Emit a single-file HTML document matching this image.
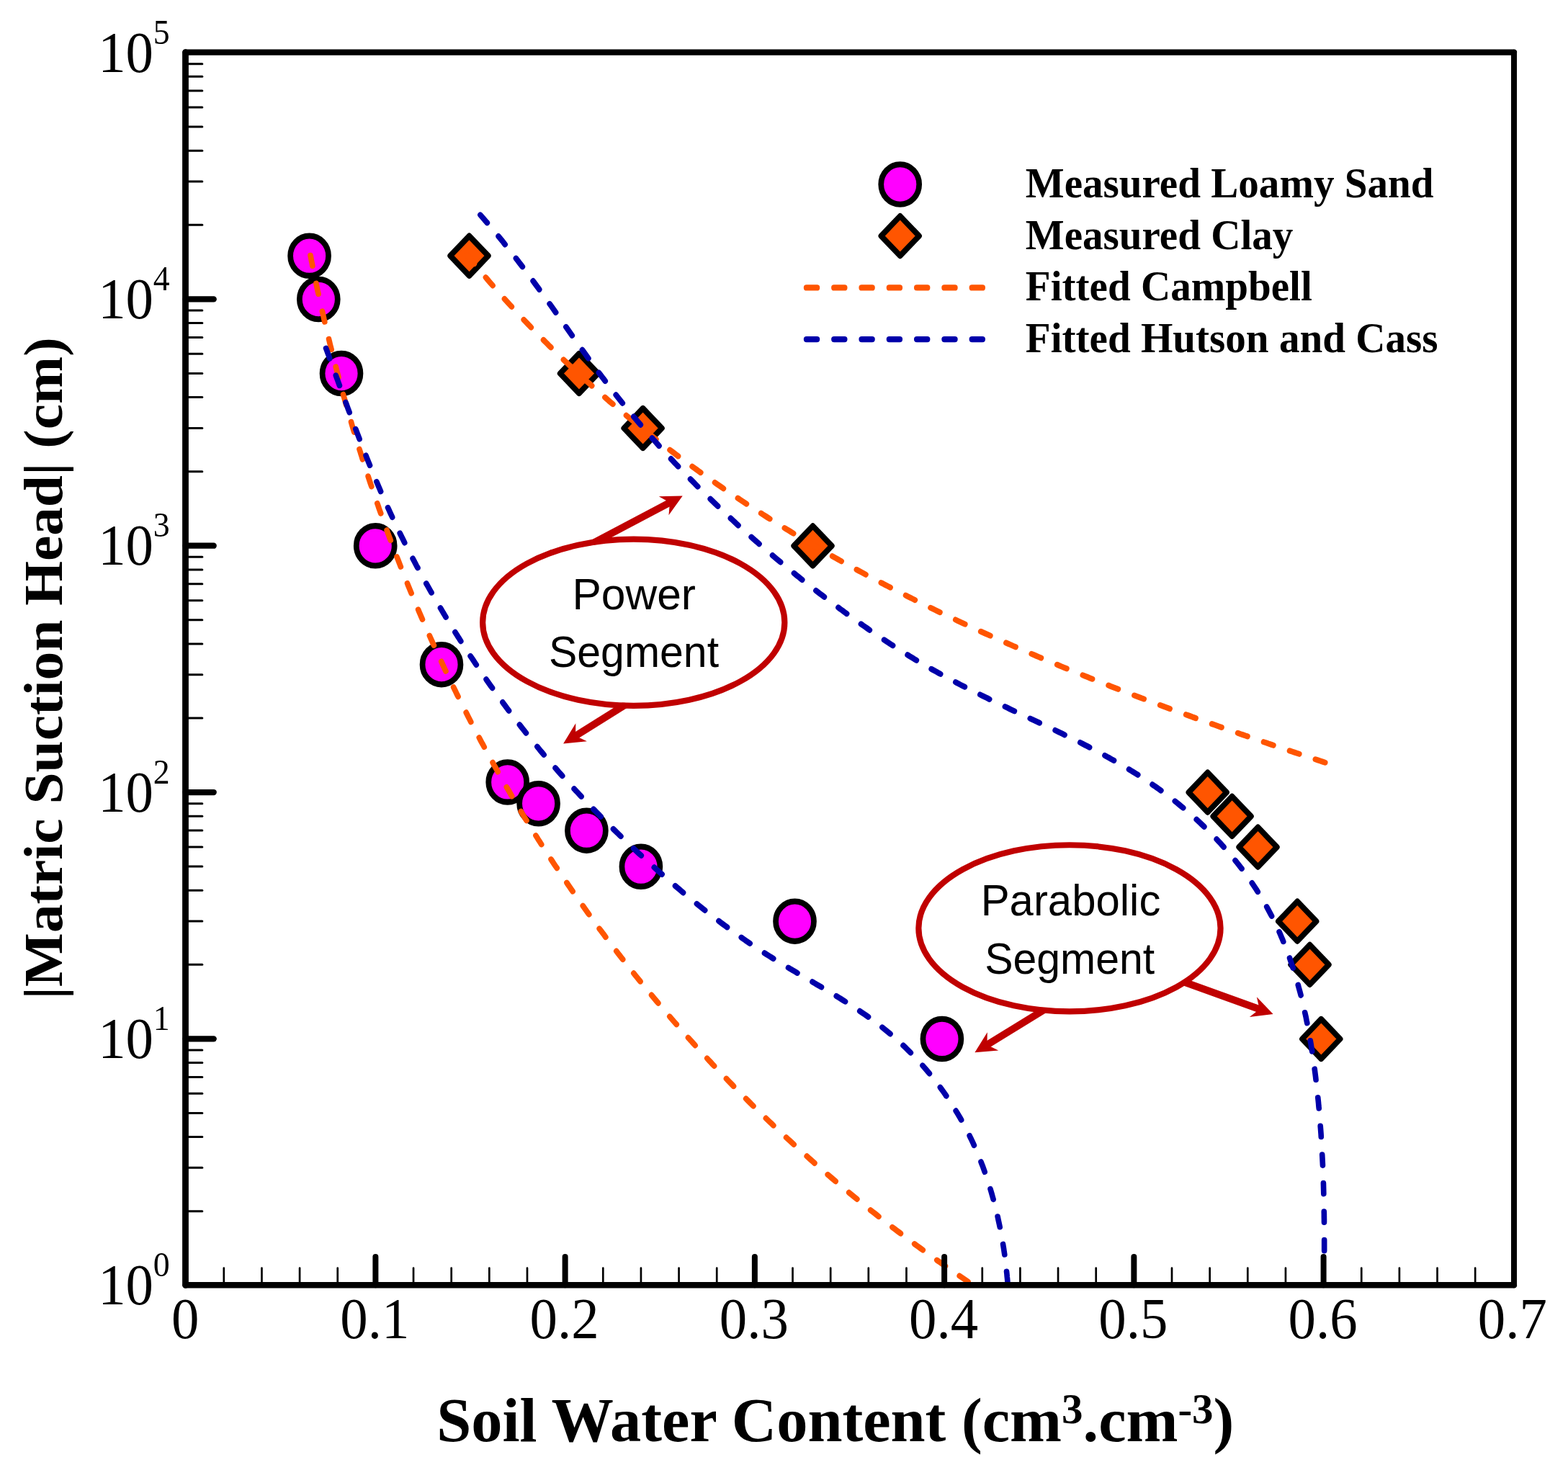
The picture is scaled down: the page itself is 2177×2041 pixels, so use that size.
<!DOCTYPE html>
<html lang="en">
<head>
<meta charset="utf-8">
<title>Soil water retention curves</title>
<style>
html, body { margin: 0; padding: 0; background: #ffffff; }
body { width: 2177px; height: 2041px; overflow: hidden; }
svg { display: block; }
</style>
</head>
<body>
<svg width="2177" height="2041" viewBox="0 0 2177 2041">
<rect x="0" y="0" width="2177" height="2041" fill="#ffffff"/>
<defs><clipPath id="plot"><rect x="269.63" y="72.65" width="1931.41" height="1714.65"/></clipPath></defs>
<g transform="scale(0.955 1)">
<g>
<circle cx="449.84" cy="355.20" r="27.7" fill="#FF00FF" stroke="#000" stroke-width="8.1"/>
<circle cx="463.14" cy="415.48" r="27.7" fill="#FF00FF" stroke="#000" stroke-width="8.1"/>
<circle cx="496.34" cy="518.53" r="27.7" fill="#FF00FF" stroke="#000" stroke-width="8.1"/>
<circle cx="545.76" cy="757.81" r="27.7" fill="#FF00FF" stroke="#000" stroke-width="8.1"/>
<circle cx="641.88" cy="922.64" r="27.7" fill="#FF00FF" stroke="#000" stroke-width="8.1"/>
<circle cx="737.91" cy="1085.97" r="27.7" fill="#FF00FF" stroke="#000" stroke-width="8.1"/>
<circle cx="782.83" cy="1115.80" r="27.7" fill="#FF00FF" stroke="#000" stroke-width="8.1"/>
<circle cx="852.77" cy="1153.17" r="27.7" fill="#FF00FF" stroke="#000" stroke-width="8.1"/>
<circle cx="931.83" cy="1203.19" r="27.7" fill="#FF00FF" stroke="#000" stroke-width="8.1"/>
<circle cx="1155.50" cy="1279.14" r="27.7" fill="#FF00FF" stroke="#000" stroke-width="8.1"/>
<circle cx="1369.53" cy="1442.47" r="27.7" fill="#FF00FF" stroke="#000" stroke-width="8.1"/>
<path d="M682.20 327.60L709.80 355.20L682.20 382.80L654.60 355.20Z" fill="#FF5500" stroke="#000" stroke-width="8.0" stroke-linejoin="round"/>
<path d="M841.88 490.93L869.48 518.53L841.88 546.13L814.28 518.53Z" fill="#FF5500" stroke="#000" stroke-width="8.0" stroke-linejoin="round"/>
<path d="M934.66 566.88L962.26 594.48L934.66 622.08L907.06 594.48Z" fill="#FF5500" stroke="#000" stroke-width="8.0" stroke-linejoin="round"/>
<path d="M1181.68 730.21L1209.28 757.81L1181.68 785.41L1154.08 757.81Z" fill="#FF5500" stroke="#000" stroke-width="8.0" stroke-linejoin="round"/>
<path d="M1755.71 1072.54L1783.31 1100.14L1755.71 1127.74L1728.11 1100.14Z" fill="#FF5500" stroke="#000" stroke-width="8.0" stroke-linejoin="round"/>
<path d="M1791.20 1105.72L1818.80 1133.32L1791.20 1160.92L1763.60 1133.32Z" fill="#FF5500" stroke="#000" stroke-width="8.0" stroke-linejoin="round"/>
<path d="M1828.80 1148.49L1856.40 1176.09L1828.80 1203.69L1801.20 1176.09Z" fill="#FF5500" stroke="#000" stroke-width="8.0" stroke-linejoin="round"/>
<path d="M1886.07 1251.54L1913.67 1279.14L1886.07 1306.74L1858.47 1279.14Z" fill="#FF5500" stroke="#000" stroke-width="8.0" stroke-linejoin="round"/>
<path d="M1904.19 1311.82L1931.79 1339.42L1904.19 1367.02L1876.59 1339.42Z" fill="#FF5500" stroke="#000" stroke-width="8.0" stroke-linejoin="round"/>
<path d="M1920.73 1414.87L1948.33 1442.47L1920.73 1470.07L1893.13 1442.47Z" fill="#FF5500" stroke="#000" stroke-width="8.0" stroke-linejoin="round"/>
</g>
<g clip-path="url(#plot)">
<path d="M451.3 354.7L452.1 358.3L452.8 361.9L453.6 365.5L454.3 369.1M459.6 393.6L460.4 397.2L461.2 400.8L462.0 404.4L462.9 408.0M468.5 432.3L469.4 435.9L470.3 439.5L471.1 443.1L472.0 446.7M478.1 470.9L479.0 474.5L479.9 478.1L480.8 481.7L481.8 485.2M488.2 509.4L489.2 513.0L490.2 516.5L491.2 520.1L492.2 523.7M499.0 547.7L500.1 551.2L501.1 554.8L502.2 558.3L503.2 561.9M510.5 585.8L511.5 589.3L512.6 592.9L513.7 596.4L514.9 599.9M522.5 623.7L523.7 627.2L524.8 630.8L526.0 634.3L527.1 637.8M535.2 661.4L536.4 664.9L537.6 668.4L538.8 671.9L540.1 675.4M548.5 698.9L549.8 702.4L551.0 705.9L552.3 709.4L553.6 712.8M562.4 736.2L563.7 739.7L565.1 743.1L566.4 746.6L567.8 750.0M577.0 773.2L578.4 776.6L579.8 780.1L581.2 783.5L582.6 786.9M592.2 810.0L593.6 813.4L595.1 816.8L596.5 820.2L598.0 823.6M608.0 846.4L609.5 849.8L611.0 853.2L612.5 856.6L614.1 859.9M624.5 882.6L626.0 886.0L627.6 889.3L629.2 892.7L630.8 896.0M641.6 918.5L643.2 921.8L644.8 925.2L646.4 928.5L648.1 931.8M659.3 954.1L661.0 957.4L662.7 960.7L664.3 964.0L666.0 967.2M677.7 989.3L679.4 992.6L681.1 995.8L682.9 999.1L684.6 1002.3M696.6 1024.2L698.4 1027.5L700.2 1030.7L702.1 1033.9L703.9 1037.1M716.3 1058.8L718.1 1062.0L720.0 1065.1L721.9 1068.3L723.7 1071.5M736.5 1092.9L738.5 1096.1L740.4 1099.2L742.3 1102.4L744.2 1105.5M757.4 1126.7L759.4 1129.8L761.4 1133.0L763.4 1136.1L765.4 1139.2M779.0 1160.1L781.0 1163.2L783.0 1166.3L785.1 1169.3L787.1 1172.4M801.1 1193.1L803.2 1196.1L805.3 1199.2L807.4 1202.2L809.6 1205.2M824.0 1225.6L826.1 1228.6L828.3 1231.6L830.4 1234.6L832.6 1237.6M847.4 1257.7L849.6 1260.7L851.8 1263.6L854.0 1266.6L856.3 1269.6M871.4 1289.4L873.7 1292.3L876.0 1295.2L878.3 1298.1L880.5 1301.1M896.1 1320.6L898.4 1323.5L900.8 1326.4L903.1 1329.2L905.4 1332.1M921.3 1351.3L923.7 1354.2L926.1 1357.0L928.5 1359.8L930.9 1362.6M947.2 1381.6L949.6 1384.4L952.0 1387.2L954.5 1390.0L956.9 1392.7M973.6 1411.4L976.0 1414.1L978.5 1416.9L981.0 1419.6L983.5 1422.3M1000.5 1440.7L1003.0 1443.4L1005.6 1446.0L1008.1 1448.7L1010.6 1451.4M1028.0 1469.4L1030.5 1472.1L1033.1 1474.7L1035.7 1477.4L1038.3 1480.0M1056.0 1497.7L1058.6 1500.3L1061.2 1502.9L1063.9 1505.5L1066.5 1508.1M1084.5 1525.4L1087.2 1528.0L1089.8 1530.5L1092.5 1533.1L1095.2 1535.6M1113.5 1552.6L1116.2 1555.1L1118.9 1557.6L1121.7 1560.1L1124.4 1562.6M1143.0 1579.3L1145.8 1581.7L1148.5 1584.1L1151.3 1586.6L1154.1 1589.0M1173.0 1605.3L1175.8 1607.7L1178.6 1610.1L1181.4 1612.5L1184.2 1614.9M1203.4 1630.9L1206.2 1633.2L1209.1 1635.5L1212.0 1637.9L1214.8 1640.2M1234.3 1655.8L1237.2 1658.1L1240.1 1660.4L1243.0 1662.7L1245.9 1664.9M1265.6 1680.2L1268.5 1682.4L1271.5 1684.6L1274.4 1686.8L1277.4 1689.1M1297.3 1703.9L1300.3 1706.1L1303.3 1708.3L1306.3 1710.4L1309.3 1712.6M1329.5 1727.1L1332.5 1729.2L1335.5 1731.3L1338.5 1733.4L1341.6 1735.5M1362.1 1749.6L1365.1 1751.7L1368.2 1753.7L1371.2 1755.8L1374.3 1757.8M1395.0 1771.5L1398.1 1773.5L1401.2 1775.5L1404.2 1777.5L1407.3 1779.5M1428.3 1792.8L1431.4 1794.7L1434.5 1796.7L1437.7 1798.6L1440.8 1800.5" fill="none" stroke="#FF5500" stroke-width="8.0" stroke-linecap="round" stroke-linejoin="round"/>
<path d="M679.5 354.6L682.0 357.5L684.4 360.3L686.9 363.2L689.4 366.1M706.2 385.2L708.7 388.0L711.2 390.8L713.7 393.6L716.3 396.4M733.5 415.0L736.1 417.7L738.7 420.4L741.2 423.1L743.8 425.8M761.5 443.9L764.1 446.6L766.7 449.2L769.4 451.8L772.0 454.5M790.1 472.0L792.8 474.6L795.5 477.2L798.2 479.8L800.9 482.3M819.3 499.4L822.1 501.9L824.8 504.4L827.6 506.9L830.3 509.3M849.1 525.9L851.9 528.4L854.7 530.8L857.6 533.2L860.4 535.6M879.5 551.7L882.4 554.1L885.2 556.5L888.1 558.8L891.0 561.1M910.5 576.8L913.4 579.1L916.3 581.4L919.2 583.7L922.1 585.9M941.9 601.1L944.9 603.4L947.9 605.6L950.8 607.8L953.8 610.0M973.9 624.8L976.9 626.9L979.9 629.1L982.9 631.3L985.9 633.4M1006.4 647.7L1009.4 649.8L1012.5 651.9L1015.5 654.0L1018.6 656.1M1039.3 670.0L1042.4 672.1L1045.5 674.1L1048.6 676.1L1051.7 678.2M1072.7 691.7L1075.8 693.7L1078.9 695.6L1082.1 697.6L1085.2 699.6M1106.5 712.7L1109.6 714.6L1112.8 716.5L1116.0 718.5L1119.1 720.4M1140.7 733.1L1143.9 735.0L1147.1 736.8L1150.3 738.7L1153.5 740.6M1175.2 752.9L1178.5 754.8L1181.7 756.6L1184.9 758.4L1188.2 760.2M1210.1 772.2L1213.4 774.0L1216.7 775.7L1219.9 777.5L1223.2 779.2M1245.4 790.9L1248.7 792.6L1252.0 794.3L1255.3 796.0L1258.6 797.7M1281.0 809.1L1284.3 810.7L1287.6 812.4L1290.9 814.0L1294.3 815.7M1316.8 826.7L1320.2 828.3L1323.5 829.9L1326.9 831.5L1330.2 833.1M1352.9 843.9L1356.3 845.4L1359.7 847.0L1363.1 848.6L1366.4 850.1M1389.3 860.5L1392.7 862.1L1396.1 863.6L1399.5 865.1L1402.9 866.6M1425.9 876.8L1429.3 878.2L1432.8 879.7L1436.2 881.2L1439.6 882.7M1462.7 892.5L1466.2 894.0L1469.6 895.4L1473.0 896.9L1476.5 898.3M1499.7 907.9L1503.2 909.3L1506.6 910.7L1510.1 912.1L1513.5 913.5M1536.9 922.8L1540.3 924.2L1543.8 925.6L1547.2 926.9L1550.7 928.3M1574.1 937.4L1577.6 938.8L1581.1 940.1L1584.6 941.4L1588.0 942.7M1611.6 951.6L1615.0 952.9L1618.5 954.2L1622.0 955.5L1625.5 956.8M1649.1 965.5L1652.5 966.7L1656.0 968.0L1659.5 969.3L1663.0 970.5M1686.6 979.0L1690.1 980.2L1693.6 981.5L1697.1 982.7L1700.6 984.0M1724.3 992.2L1727.8 993.4L1731.3 994.6L1734.8 995.9L1738.3 997.1M1761.9 1005.1L1765.4 1006.3L1768.9 1007.5L1772.4 1008.7L1775.9 1009.9M1799.6 1017.8L1803.1 1019.0L1806.6 1020.1L1810.1 1021.3L1813.6 1022.4M1837.2 1030.2L1840.7 1031.3L1844.2 1032.5L1847.7 1033.6L1851.2 1034.8M1874.9 1042.4L1878.4 1043.5L1881.9 1044.6L1885.4 1045.7L1888.8 1046.8M1912.4 1054.3L1915.9 1055.4L1919.4 1056.5L1922.9 1057.6L1926.4 1058.7" fill="none" stroke="#FF5500" stroke-width="8.0" stroke-linecap="round" stroke-linejoin="round"/>
<path d="M473.9 483.6L475.3 487.1L476.6 490.6L478.0 494.1L479.3 497.7M488.3 521.3L489.6 524.8L491.0 528.3L492.3 531.8L493.6 535.2M502.6 558.7L504.0 562.1L505.3 565.6L506.6 569.1L508.0 572.5M517.1 595.8L518.5 599.2L519.8 602.6L521.2 606.0L522.6 609.5M532.0 632.5L533.4 635.9L534.8 639.3L536.2 642.7L537.7 646.1M547.5 668.9L549.0 672.2L550.5 675.6L552.0 678.9L553.5 682.3M563.9 704.8L565.5 708.1L567.1 711.5L568.7 714.8L570.3 718.1M581.4 740.4L583.1 743.7L584.8 746.9L586.5 750.2L588.2 753.5M600.1 775.5L601.9 778.7L603.6 781.9L605.4 785.2L607.3 788.4M619.7 810.1L621.6 813.3L623.5 816.5L625.4 819.7L627.3 822.8M640.3 844.2L642.3 847.4L644.2 850.5L646.2 853.6L648.2 856.8M661.7 877.8L663.8 880.9L665.8 884.0L667.9 887.1L669.9 890.2M683.9 910.9L686.1 913.9L688.2 916.9L690.3 920.0L692.4 923.0M706.9 943.3L709.1 946.3L711.3 949.3L713.5 952.3L715.7 955.2M730.8 975.1L733.0 978.1L735.3 981.0L737.5 983.9L739.8 986.8M755.4 1006.3L757.7 1009.1L760.1 1012.0L762.4 1014.8L764.8 1017.7M781.0 1036.7L783.4 1039.5L785.8 1042.3L788.2 1045.0L790.7 1047.8M807.4 1066.3L809.9 1069.0L812.4 1071.8L814.9 1074.5L817.5 1077.2M834.7 1095.2L837.3 1097.9L839.9 1100.5L842.5 1103.2L845.1 1105.8M862.8 1123.5L865.5 1126.0L868.1 1128.6L870.8 1131.2L873.5 1133.8M891.6 1151.0L894.3 1153.5L897.1 1156.1L899.8 1158.6L902.5 1161.1M921.1 1178.0L923.8 1180.4L926.6 1182.9L929.4 1185.4L932.2 1187.8M951.1 1204.3L953.9 1206.7L956.7 1209.1L959.6 1211.5L962.4 1213.9M981.7 1230.0L984.6 1232.3L987.5 1234.7L990.3 1237.0L993.2 1239.4M1013.0 1254.9L1015.9 1257.1L1018.9 1259.4L1021.8 1261.6L1024.8 1263.9M1045.0 1278.8L1048.0 1281.0L1051.0 1283.1L1054.1 1285.3L1057.1 1287.4M1077.8 1301.6L1080.9 1303.7L1084.0 1305.8L1087.1 1307.8L1090.2 1309.8M1111.5 1323.3L1114.7 1325.2L1117.9 1327.1L1121.1 1329.0L1124.3 1331.0M1146.1 1343.6L1149.4 1345.4L1152.6 1347.3L1155.9 1349.1L1159.1 1350.9M1181.1 1363.2L1184.4 1365.1L1187.6 1366.9L1190.9 1368.7L1194.2 1370.5M1216.0 1383.0L1219.2 1384.9L1222.4 1386.8L1225.6 1388.7L1228.8 1390.6M1250.0 1403.8L1253.1 1405.8L1256.2 1407.8L1259.3 1409.9L1262.3 1411.9M1282.6 1426.4L1285.5 1428.6L1288.4 1430.9L1291.3 1433.1L1294.2 1435.4M1313.1 1451.6L1315.9 1454.1L1318.6 1456.6L1321.2 1459.1L1323.9 1461.6M1341.3 1479.4L1343.8 1482.1L1346.3 1484.9L1348.7 1487.6L1351.2 1490.4M1366.9 1509.7L1369.2 1512.7L1371.4 1515.6L1373.6 1518.6L1375.7 1521.6M1389.7 1542.3L1391.7 1545.4L1393.7 1548.6L1395.6 1551.7L1397.5 1554.9M1409.6 1576.9L1411.2 1580.2L1412.9 1583.5L1414.5 1586.8L1416.1 1590.2M1426.2 1613.2L1427.6 1616.7L1429.0 1620.1L1430.3 1623.6L1431.6 1627.1M1439.8 1650.9L1440.9 1654.4L1442.0 1658.0L1443.0 1661.5L1444.1 1665.1M1450.4 1689.2L1451.2 1692.8L1452.0 1696.4L1452.8 1699.9L1453.6 1703.5M1458.2 1727.6L1458.8 1731.2L1459.4 1734.7L1459.9 1738.2L1460.5 1741.8M1463.4 1765.5L1463.8 1768.9L1464.1 1772.4L1464.5 1775.8L1464.8 1779.3M1466.2 1802.2L1466.4 1805.5L1466.5 1808.8L1466.6 1812.1L1466.7 1815.4" fill="none" stroke="#0000AA" stroke-width="8.0" stroke-linecap="round" stroke-linejoin="round"/>
<path d="M698.3 298.4L700.8 301.1L703.3 303.9L705.7 306.6L708.2 309.3M724.7 328.1L727.1 330.9L729.5 333.7L731.9 336.5L734.2 339.4M750.2 358.7L752.5 361.6L754.8 364.5L757.2 367.4L759.5 370.3M775.0 390.1L777.2 393.0L779.5 396.0L781.8 398.9L784.0 401.9M799.1 421.9L801.4 424.9L803.6 427.8L805.8 430.8L808.0 433.8M822.9 453.9L825.1 456.9L827.3 459.9L829.5 462.8L831.7 465.8M846.5 485.8L848.8 488.8L851.0 491.7L853.2 494.7L855.4 497.6M870.6 517.4L872.9 520.3L875.2 523.2L877.5 526.1L879.8 529.0M895.5 548.3L897.9 551.2L900.2 554.0L902.6 556.8L905.0 559.7M921.3 578.6L923.8 581.4L926.2 584.1L928.7 586.9L931.2 589.7M948.0 608.2L950.5 610.9L953.1 613.6L955.6 616.3L958.1 619.0M975.5 637.1L978.1 639.7L980.7 642.4L983.3 645.0L985.9 647.6M1003.7 665.3L1006.4 667.8L1009.1 670.4L1011.7 673.0L1014.4 675.6M1032.7 692.8L1035.4 695.3L1038.1 697.8L1040.8 700.3L1043.6 702.8M1062.2 719.6L1065.0 722.0L1067.8 724.5L1070.5 726.9L1073.3 729.4M1092.3 745.7L1095.2 748.1L1098.0 750.5L1100.9 752.8L1103.7 755.2M1123.1 771.1L1126.0 773.5L1128.9 775.8L1131.8 778.1L1134.7 780.4M1154.4 795.9L1157.3 798.2L1160.3 800.4L1163.2 802.7L1166.2 804.9M1186.3 820.0L1189.3 822.2L1192.3 824.4L1195.3 826.6L1198.3 828.8M1218.8 843.5L1221.8 845.7L1224.9 847.8L1227.9 850.0L1231.0 852.1M1251.8 866.4L1254.9 868.5L1258.0 870.5L1261.1 872.6L1264.2 874.7M1285.4 888.4L1288.5 890.4L1291.7 892.4L1294.8 894.4L1298.0 896.3M1319.5 909.3L1322.7 911.2L1325.9 913.0L1329.1 914.9L1332.3 916.7M1354.1 928.9L1357.4 930.6L1360.6 932.3L1363.9 934.1L1367.2 935.8M1389.3 947.2L1392.6 948.8L1395.9 950.5L1399.2 952.1L1402.5 953.7M1425.0 964.5L1428.4 966.1L1431.7 967.7L1435.1 969.2L1438.4 970.8M1461.2 981.2L1464.6 982.7L1468.0 984.3L1471.3 985.8L1474.7 987.3M1497.7 997.6L1501.1 999.1L1504.5 1000.6L1507.9 1002.1L1511.2 1003.7M1534.2 1014.0L1537.6 1015.6L1540.9 1017.1L1544.3 1018.7L1547.7 1020.3M1570.5 1031.0L1573.8 1032.6L1577.2 1034.3L1580.5 1035.9L1583.9 1037.6M1606.3 1048.9L1609.6 1050.7L1612.9 1052.4L1616.1 1054.2L1619.4 1055.9M1641.4 1068.2L1644.6 1070.1L1647.8 1072.0L1651.0 1073.9L1654.2 1075.8M1675.4 1089.3L1678.5 1091.3L1681.6 1093.4L1684.7 1095.5L1687.8 1097.6M1708.2 1112.4L1711.2 1114.7L1714.2 1117.0L1717.1 1119.3L1720.1 1121.6M1739.5 1137.8L1742.3 1140.3L1745.1 1142.7L1747.8 1145.2L1750.6 1147.8M1768.8 1165.2L1771.4 1167.9L1774.0 1170.6L1776.5 1173.2L1779.1 1176.0M1795.8 1194.7L1798.2 1197.5L1800.5 1200.3L1802.9 1203.2L1805.2 1206.1M1820.2 1226.0L1822.3 1229.0L1824.4 1232.0L1826.5 1235.0L1828.5 1238.1M1841.6 1259.1L1843.4 1262.3L1845.2 1265.5L1847.0 1268.7L1848.8 1271.9M1859.8 1293.9L1861.3 1297.2L1862.8 1300.6L1864.3 1303.9L1865.7 1307.2M1874.9 1330.2L1876.1 1333.6L1877.4 1337.1L1878.6 1340.5L1879.8 1344.0M1887.2 1367.6L1888.2 1371.2L1889.2 1374.7L1890.2 1378.2L1891.2 1381.8M1897.1 1406.0L1898.0 1409.6L1898.8 1413.2L1899.5 1416.8L1900.3 1420.4M1905.0 1445.0L1905.7 1448.7L1906.3 1452.3L1906.9 1456.0L1907.5 1459.6M1911.2 1484.4L1911.7 1488.1L1912.2 1491.8L1912.7 1495.5L1913.1 1499.1M1916.0 1524.0L1916.4 1527.6L1916.8 1531.3L1917.1 1535.0L1917.5 1538.7M1919.6 1563.6L1919.9 1567.2L1920.2 1570.9L1920.5 1574.6L1920.7 1578.3M1922.2 1603.2L1922.4 1606.8L1922.6 1610.5L1922.8 1614.2L1923.0 1617.9M1924.0 1642.7L1924.1 1646.4L1924.2 1650.1L1924.3 1653.8L1924.4 1657.5M1924.9 1682.3L1925.0 1686.0L1925.0 1689.7L1925.1 1693.3L1925.1 1697.0M1925.3 1721.8L1925.3 1725.5L1925.3 1729.1L1925.3 1732.8L1925.3 1736.5" fill="none" stroke="#0000AA" stroke-width="8.0" stroke-linecap="round" stroke-linejoin="round"/>
</g>
<circle cx="1308.59" cy="256.00" r="27.7" fill="#FF00FF" stroke="#000" stroke-width="8.1"/>
<path d="M1308.59 300.00L1336.19 327.60L1308.59 355.20L1280.99 327.60Z" fill="#FF5500" stroke="#000" stroke-width="8.0" stroke-linejoin="round"/>
<path d="M1172.57 399.4h15.1M1212.67 399.4h15.1M1252.77 399.4h15.1M1292.87 399.4h15.1M1332.97 399.4h15.1M1373.07 399.4h15.1M1413.17 399.4h15.1" fill="none" stroke="#FF5500" stroke-width="8.4" stroke-linecap="round"/>
<path d="M1172.57 471.1h15.1M1212.67 471.1h15.1M1252.77 471.1h15.1M1292.87 471.1h15.1M1332.97 471.1h15.1M1373.07 471.1h15.1M1413.17 471.1h15.1" fill="none" stroke="#0000AA" stroke-width="8.4" stroke-linecap="round"/>
<text transform="translate(1490.89 274.00)" font-family="'Liberation Serif', 'DejaVu Serif', serif" font-size="59.8" font-weight="bold" text-anchor="start" fill="#000">Measured Loamy Sand</text>
<text transform="translate(1490.89 345.50)" font-family="'Liberation Serif', 'DejaVu Serif', serif" font-size="59.8" font-weight="bold" text-anchor="start" fill="#000">Measured Clay</text>
<text transform="translate(1490.89 417.00)" font-family="'Liberation Serif', 'DejaVu Serif', serif" font-size="59.8" font-weight="bold" text-anchor="start" fill="#000">Fitted Campbell</text>
<text transform="translate(1490.89 488.50)" font-family="'Liberation Serif', 'DejaVu Serif', serif" font-size="59.8" font-weight="bold" text-anchor="start" fill="#000">Fitted Hutson and Cass</text>
<text transform="translate(223.04 1811.30)" font-family="'Liberation Serif', 'DejaVu Serif', serif" font-size="80.5" text-anchor="end" fill="#000">10</text>
<text transform="translate(222.83 1772.30)" font-family="'Liberation Serif', 'DejaVu Serif', serif" font-size="48" text-anchor="start" fill="#000">0</text>
<text transform="translate(223.04 1468.97)" font-family="'Liberation Serif', 'DejaVu Serif', serif" font-size="80.5" text-anchor="end" fill="#000">10</text>
<text transform="translate(222.83 1429.97)" font-family="'Liberation Serif', 'DejaVu Serif', serif" font-size="48" text-anchor="start" fill="#000">1</text>
<text transform="translate(223.04 1126.64)" font-family="'Liberation Serif', 'DejaVu Serif', serif" font-size="80.5" text-anchor="end" fill="#000">10</text>
<text transform="translate(222.83 1087.64)" font-family="'Liberation Serif', 'DejaVu Serif', serif" font-size="48" text-anchor="start" fill="#000">2</text>
<text transform="translate(223.04 784.31)" font-family="'Liberation Serif', 'DejaVu Serif', serif" font-size="80.5" text-anchor="end" fill="#000">10</text>
<text transform="translate(222.83 745.31)" font-family="'Liberation Serif', 'DejaVu Serif', serif" font-size="48" text-anchor="start" fill="#000">3</text>
<text transform="translate(223.04 441.98)" font-family="'Liberation Serif', 'DejaVu Serif', serif" font-size="80.5" text-anchor="end" fill="#000">10</text>
<text transform="translate(222.83 402.98)" font-family="'Liberation Serif', 'DejaVu Serif', serif" font-size="48" text-anchor="start" fill="#000">4</text>
<text transform="translate(223.04 99.65)" font-family="'Liberation Serif', 'DejaVu Serif', serif" font-size="80.5" text-anchor="end" fill="#000">10</text>
<text transform="translate(222.83 60.65)" font-family="'Liberation Serif', 'DejaVu Serif', serif" font-size="48" text-anchor="start" fill="#000">5</text>
<text transform="translate(269.27 1858.40)" font-family="'Liberation Serif', 'DejaVu Serif', serif" font-size="80.5" text-anchor="middle" fill="#000">0</text>
<text transform="translate(544.91 1858.40)" font-family="'Liberation Serif', 'DejaVu Serif', serif" font-size="80.5" text-anchor="middle" fill="#000">0.1</text>
<text transform="translate(820.55 1858.40)" font-family="'Liberation Serif', 'DejaVu Serif', serif" font-size="80.5" text-anchor="middle" fill="#000">0.2</text>
<text transform="translate(1096.20 1858.40)" font-family="'Liberation Serif', 'DejaVu Serif', serif" font-size="80.5" text-anchor="middle" fill="#000">0.3</text>
<text transform="translate(1371.84 1858.40)" font-family="'Liberation Serif', 'DejaVu Serif', serif" font-size="80.5" text-anchor="middle" fill="#000">0.4</text>
<text transform="translate(1647.49 1858.40)" font-family="'Liberation Serif', 'DejaVu Serif', serif" font-size="80.5" text-anchor="middle" fill="#000">0.5</text>
<text transform="translate(1923.13 1858.40)" font-family="'Liberation Serif', 'DejaVu Serif', serif" font-size="80.5" text-anchor="middle" fill="#000">0.6</text>
<text transform="translate(2198.77 1858.40)" font-family="'Liberation Serif', 'DejaVu Serif', serif" font-size="80.5" text-anchor="middle" fill="#000">0.7</text>
<text transform="translate(89.74 1387.50) rotate(-90)" font-family="'Liberation Serif', 'DejaVu Serif', serif" font-size="79.4" font-weight="bold" fill="#000">|Matric Suction Head| (cm)</text>
</g>
<g stroke="#000" fill="none">
<line x1="257.50" y1="1681.65" x2="280.80" y2="1681.65" stroke-width="3.0" stroke-linecap="round"/>
<line x1="257.50" y1="1621.37" x2="280.80" y2="1621.37" stroke-width="3.0" stroke-linecap="round"/>
<line x1="257.50" y1="1578.60" x2="280.80" y2="1578.60" stroke-width="3.0" stroke-linecap="round"/>
<line x1="257.50" y1="1545.42" x2="280.80" y2="1545.42" stroke-width="3.0" stroke-linecap="round"/>
<line x1="257.50" y1="1518.32" x2="280.80" y2="1518.32" stroke-width="3.0" stroke-linecap="round"/>
<line x1="257.50" y1="1495.40" x2="280.80" y2="1495.40" stroke-width="3.0" stroke-linecap="round"/>
<line x1="257.50" y1="1475.55" x2="280.80" y2="1475.55" stroke-width="3.0" stroke-linecap="round"/>
<line x1="257.50" y1="1458.03" x2="280.80" y2="1458.03" stroke-width="3.0" stroke-linecap="round"/>
<line x1="257.50" y1="1339.32" x2="280.80" y2="1339.32" stroke-width="3.0" stroke-linecap="round"/>
<line x1="257.50" y1="1279.04" x2="280.80" y2="1279.04" stroke-width="3.0" stroke-linecap="round"/>
<line x1="257.50" y1="1236.27" x2="280.80" y2="1236.27" stroke-width="3.0" stroke-linecap="round"/>
<line x1="257.50" y1="1203.09" x2="280.80" y2="1203.09" stroke-width="3.0" stroke-linecap="round"/>
<line x1="257.50" y1="1175.99" x2="280.80" y2="1175.99" stroke-width="3.0" stroke-linecap="round"/>
<line x1="257.50" y1="1153.07" x2="280.80" y2="1153.07" stroke-width="3.0" stroke-linecap="round"/>
<line x1="257.50" y1="1133.22" x2="280.80" y2="1133.22" stroke-width="3.0" stroke-linecap="round"/>
<line x1="257.50" y1="1115.70" x2="280.80" y2="1115.70" stroke-width="3.0" stroke-linecap="round"/>
<line x1="257.50" y1="996.99" x2="280.80" y2="996.99" stroke-width="3.0" stroke-linecap="round"/>
<line x1="257.50" y1="936.71" x2="280.80" y2="936.71" stroke-width="3.0" stroke-linecap="round"/>
<line x1="257.50" y1="893.94" x2="280.80" y2="893.94" stroke-width="3.0" stroke-linecap="round"/>
<line x1="257.50" y1="860.76" x2="280.80" y2="860.76" stroke-width="3.0" stroke-linecap="round"/>
<line x1="257.50" y1="833.66" x2="280.80" y2="833.66" stroke-width="3.0" stroke-linecap="round"/>
<line x1="257.50" y1="810.74" x2="280.80" y2="810.74" stroke-width="3.0" stroke-linecap="round"/>
<line x1="257.50" y1="790.89" x2="280.80" y2="790.89" stroke-width="3.0" stroke-linecap="round"/>
<line x1="257.50" y1="773.37" x2="280.80" y2="773.37" stroke-width="3.0" stroke-linecap="round"/>
<line x1="257.50" y1="654.66" x2="280.80" y2="654.66" stroke-width="3.0" stroke-linecap="round"/>
<line x1="257.50" y1="594.38" x2="280.80" y2="594.38" stroke-width="3.0" stroke-linecap="round"/>
<line x1="257.50" y1="551.61" x2="280.80" y2="551.61" stroke-width="3.0" stroke-linecap="round"/>
<line x1="257.50" y1="518.43" x2="280.80" y2="518.43" stroke-width="3.0" stroke-linecap="round"/>
<line x1="257.50" y1="491.33" x2="280.80" y2="491.33" stroke-width="3.0" stroke-linecap="round"/>
<line x1="257.50" y1="468.41" x2="280.80" y2="468.41" stroke-width="3.0" stroke-linecap="round"/>
<line x1="257.50" y1="448.56" x2="280.80" y2="448.56" stroke-width="3.0" stroke-linecap="round"/>
<line x1="257.50" y1="431.04" x2="280.80" y2="431.04" stroke-width="3.0" stroke-linecap="round"/>
<line x1="257.50" y1="312.33" x2="280.80" y2="312.33" stroke-width="3.0" stroke-linecap="round"/>
<line x1="257.50" y1="252.05" x2="280.80" y2="252.05" stroke-width="3.0" stroke-linecap="round"/>
<line x1="257.50" y1="209.28" x2="280.80" y2="209.28" stroke-width="3.0" stroke-linecap="round"/>
<line x1="257.50" y1="176.10" x2="280.80" y2="176.10" stroke-width="3.0" stroke-linecap="round"/>
<line x1="257.50" y1="149.00" x2="280.80" y2="149.00" stroke-width="3.0" stroke-linecap="round"/>
<line x1="257.50" y1="126.08" x2="280.80" y2="126.08" stroke-width="3.0" stroke-linecap="round"/>
<line x1="257.50" y1="106.23" x2="280.80" y2="106.23" stroke-width="3.0" stroke-linecap="round"/>
<line x1="257.50" y1="88.71" x2="280.80" y2="88.71" stroke-width="3.0" stroke-linecap="round"/>
<line x1="257.50" y1="1442.37" x2="296.70" y2="1442.37" stroke-width="8.3" stroke-linecap="round"/>
<line x1="257.50" y1="1100.04" x2="296.70" y2="1100.04" stroke-width="8.3" stroke-linecap="round"/>
<line x1="257.50" y1="757.71" x2="296.70" y2="757.71" stroke-width="8.3" stroke-linecap="round"/>
<line x1="257.50" y1="415.38" x2="296.70" y2="415.38" stroke-width="8.3" stroke-linecap="round"/>
<line x1="310.80" y1="1784.30" x2="310.80" y2="1760.70" stroke-width="2.7" stroke-linecap="round"/>
<line x1="363.45" y1="1784.30" x2="363.45" y2="1760.70" stroke-width="2.7" stroke-linecap="round"/>
<line x1="416.09" y1="1784.30" x2="416.09" y2="1760.70" stroke-width="2.7" stroke-linecap="round"/>
<line x1="468.74" y1="1784.30" x2="468.74" y2="1760.70" stroke-width="2.7" stroke-linecap="round"/>
<line x1="574.04" y1="1784.30" x2="574.04" y2="1760.70" stroke-width="2.7" stroke-linecap="round"/>
<line x1="626.69" y1="1784.30" x2="626.69" y2="1760.70" stroke-width="2.7" stroke-linecap="round"/>
<line x1="679.33" y1="1784.30" x2="679.33" y2="1760.70" stroke-width="2.7" stroke-linecap="round"/>
<line x1="731.98" y1="1784.30" x2="731.98" y2="1760.70" stroke-width="2.7" stroke-linecap="round"/>
<line x1="837.28" y1="1784.30" x2="837.28" y2="1760.70" stroke-width="2.7" stroke-linecap="round"/>
<line x1="889.93" y1="1784.30" x2="889.93" y2="1760.70" stroke-width="2.7" stroke-linecap="round"/>
<line x1="942.57" y1="1784.30" x2="942.57" y2="1760.70" stroke-width="2.7" stroke-linecap="round"/>
<line x1="995.22" y1="1784.30" x2="995.22" y2="1760.70" stroke-width="2.7" stroke-linecap="round"/>
<line x1="1100.52" y1="1784.30" x2="1100.52" y2="1760.70" stroke-width="2.7" stroke-linecap="round"/>
<line x1="1153.17" y1="1784.30" x2="1153.17" y2="1760.70" stroke-width="2.7" stroke-linecap="round"/>
<line x1="1205.81" y1="1784.30" x2="1205.81" y2="1760.70" stroke-width="2.7" stroke-linecap="round"/>
<line x1="1258.46" y1="1784.30" x2="1258.46" y2="1760.70" stroke-width="2.7" stroke-linecap="round"/>
<line x1="1363.76" y1="1784.30" x2="1363.76" y2="1760.70" stroke-width="2.7" stroke-linecap="round"/>
<line x1="1416.41" y1="1784.30" x2="1416.41" y2="1760.70" stroke-width="2.7" stroke-linecap="round"/>
<line x1="1469.05" y1="1784.30" x2="1469.05" y2="1760.70" stroke-width="2.7" stroke-linecap="round"/>
<line x1="1521.70" y1="1784.30" x2="1521.70" y2="1760.70" stroke-width="2.7" stroke-linecap="round"/>
<line x1="1627.00" y1="1784.30" x2="1627.00" y2="1760.70" stroke-width="2.7" stroke-linecap="round"/>
<line x1="1679.65" y1="1784.30" x2="1679.65" y2="1760.70" stroke-width="2.7" stroke-linecap="round"/>
<line x1="1732.29" y1="1784.30" x2="1732.29" y2="1760.70" stroke-width="2.7" stroke-linecap="round"/>
<line x1="1784.94" y1="1784.30" x2="1784.94" y2="1760.70" stroke-width="2.7" stroke-linecap="round"/>
<line x1="1890.24" y1="1784.30" x2="1890.24" y2="1760.70" stroke-width="2.7" stroke-linecap="round"/>
<line x1="1942.89" y1="1784.30" x2="1942.89" y2="1760.70" stroke-width="2.7" stroke-linecap="round"/>
<line x1="1995.53" y1="1784.30" x2="1995.53" y2="1760.70" stroke-width="2.7" stroke-linecap="round"/>
<line x1="2048.18" y1="1784.30" x2="2048.18" y2="1760.70" stroke-width="2.7" stroke-linecap="round"/>
<line x1="521.39" y1="1784.30" x2="521.39" y2="1745.00" stroke-width="8.0" stroke-linecap="round"/>
<line x1="784.63" y1="1784.30" x2="784.63" y2="1745.00" stroke-width="8.0" stroke-linecap="round"/>
<line x1="1047.87" y1="1784.30" x2="1047.87" y2="1745.00" stroke-width="8.0" stroke-linecap="round"/>
<line x1="1311.11" y1="1784.30" x2="1311.11" y2="1745.00" stroke-width="8.0" stroke-linecap="round"/>
<line x1="1574.35" y1="1784.30" x2="1574.35" y2="1745.00" stroke-width="8.0" stroke-linecap="round"/>
<line x1="1837.59" y1="1784.30" x2="1837.59" y2="1745.00" stroke-width="8.0" stroke-linecap="round"/>
<path d="M257.50 72.65H2102.00M257.50 1784.30H2102.00" stroke-width="8.4" stroke-linecap="round"/>
<path d="M257.50 72.65V1784.30" stroke-width="8.8" stroke-linecap="round"/>
<path d="M2102.00 72.65V1784.30" stroke-width="8.0" stroke-linecap="round"/>
</g>
<text transform="translate(606.2 2000.6)" font-family="'Liberation Serif', 'DejaVu Serif', serif" font-size="86.4" font-weight="bold" fill="#000">Soil Water Content (cm<tspan font-size="59" dy="-24.5">3</tspan><tspan dy="24.5">.cm</tspan><tspan font-size="59" dy="-24.5">-3</tspan><tspan dy="24.5">)</tspan></text>
<clipPath id="out0"><path clip-rule="evenodd" d="M0 0H2177V2041H0ZM673.75 864.25a206.00 112.00 0 1 0 412.00 0a206.00 112.00 0 1 0 -412.00 0Z"/></clipPath>
<g clip-path="url(#out0)">
<line x1="818.50" y1="756.60" x2="932.61" y2="696.45" stroke="#C00000" stroke-width="10.0"/><polygon points="947.70,688.50 928.48,715.30 929.95,697.85 914.73,689.21" fill="#C00000"/>
<line x1="869.40" y1="977.80" x2="796.56" y2="1023.35" stroke="#C00000" stroke-width="10.0"/><polygon points="782.10,1032.40 799.29,1004.25 799.11,1021.76 814.93,1029.26" fill="#C00000"/>
</g>
<ellipse cx="879.75" cy="864.25" rx="209.6" ry="115.6" fill="none" stroke="#C00000" stroke-width="8.2"/>
<text transform="translate(880.20 846.40)" font-family="'Liberation Sans', 'DejaVu Sans', sans-serif" font-size="60.5" text-anchor="middle" fill="#000">Power</text>
<text transform="translate(880.00 925.60) scale(0.975 1)" font-family="'Liberation Sans', 'DejaVu Sans', sans-serif" font-size="60.5" text-anchor="middle" fill="#000">Segment</text>
<clipPath id="out1"><path clip-rule="evenodd" d="M0 0H2177V2041H0ZM1278.95 1288.85a206.00 112.00 0 1 0 412.00 0a206.00 112.00 0 1 0 -412.00 0Z"/></clipPath>
<g clip-path="url(#out1)">
<line x1="1450.50" y1="1401.60" x2="1367.93" y2="1452.36" stroke="#C00000" stroke-width="10.0"/><polygon points="1353.40,1461.30 1370.80,1433.28 1370.49,1450.79 1386.26,1458.41" fill="#C00000"/>
<line x1="1637.80" y1="1361.30" x2="1751.55" y2="1402.22" stroke="#C00000" stroke-width="10.0"/><polygon points="1767.60,1408.00 1734.85,1411.89 1748.72,1401.21 1744.84,1384.13" fill="#C00000"/>
</g>
<ellipse cx="1484.95" cy="1288.85" rx="209.6" ry="115.6" fill="none" stroke="#C00000" stroke-width="8.2"/>
<text transform="translate(1486.50 1271.40) scale(0.99 1)" font-family="'Liberation Sans', 'DejaVu Sans', sans-serif" font-size="60.5" text-anchor="middle" fill="#000">Parabolic</text>
<text transform="translate(1485.20 1351.50) scale(0.975 1)" font-family="'Liberation Sans', 'DejaVu Sans', sans-serif" font-size="60.5" text-anchor="middle" fill="#000">Segment</text>
</svg>
</body>
</html>
